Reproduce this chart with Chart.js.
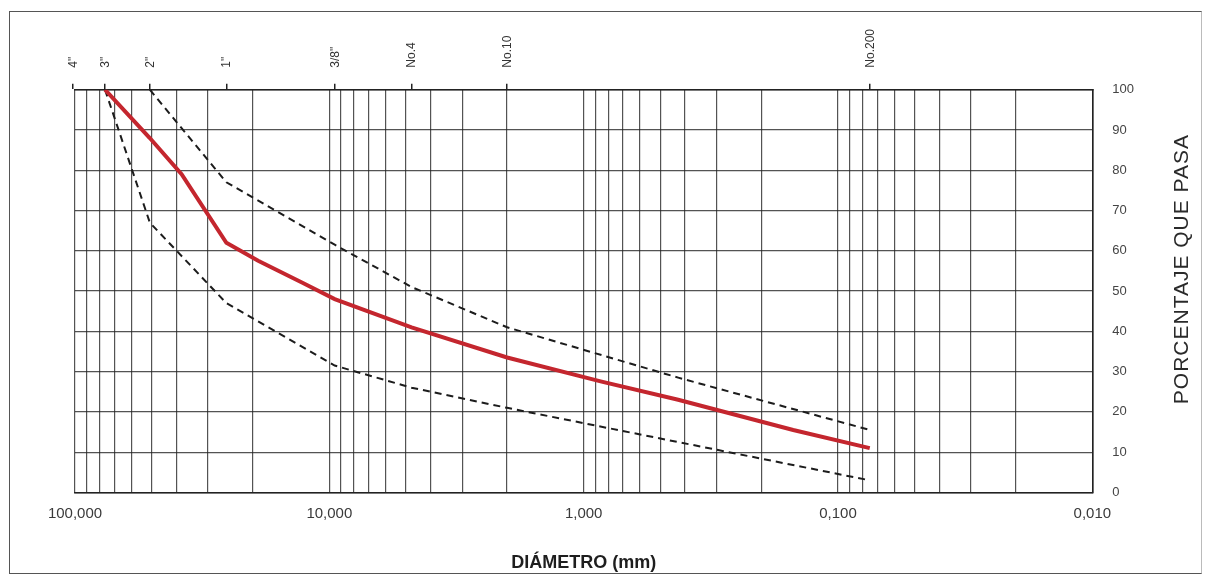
<!DOCTYPE html>
<html>
<head>
<meta charset="utf-8">
<script src="https://cdn.jsdelivr.net/npm/chart.js@4"></script>
<style>
  body { margin: 0; background: #fff; }
  #wrap { position: relative; width: 1207px; height: 579px; }
  #frame { position: absolute; left: 9px; top: 11px; width: 1191px; height: 561px;
           border: 1px solid #555; border-right-color: #bbb; pointer-events: none; }
</style>
</head>
<body>
<div id="wrap">
  <canvas id="granulometria" width="1207" height="579"></canvas>
  <div id="frame"></div>
</div>
<script>
// abertura de tamices (mm) y porcentaje que pasa
const tamicesMuestra = [76.2, 50.8, 38.1, 25.4, 19.05, 12.7, 9.525, 4.75, 2.0, 0.85, 0.425, 0.15, 0.075]
const pasaMuestra = [100, 88, 79, 62, 57.5, 52, 48, 41, 33.5, 27.5, 23, 15.5, 11]

const tamicesSuperior = [50.8, 25.4, 9.525, 4.75, 2.0, 0.425, 0.075]
const pasaSuperior = [100, 77, 61.5, 51, 41, 28.5, 15.5]

const tamicesInferior = [76.2, 50.8, 25.4, 9.525, 4.75, 2.0, 0.425, 0.075]
const pasaInferior = [100, 67, 47, 31.5, 26, 21, 12.5, 3]

// rotulos superiores
const tamicesRotulo = [101.6, 76.2, 50.8, 25.4, 9.525, 4.75, 2.0, 0.075]
const nombresRotulo = ['4"', '3"', '2"', '1"', '3/8"', 'No.4', 'No.10', 'No.200']

// rotulos inferiores
const decadas = [100, 10, 1, 0.1, 0.01]
const nombresDecada = ['100,000', '10,000', '1,000', '0,100', '0,010']

const yTicks = [0, 10, 20, 30, 40, 50, 60, 70, 80, 90, 100]

const fuente = '"Liberation Sans", Arial, sans-serif'
const colorGrid = 'rgba(35,35,35,0.78)'

// lineas del papel semilogaritmico
let lineasX = []
for (let e = -2; e < 2; e++) {
    for (let k = 1; k < 10; k++) lineasX.push(k * Math.pow(10, e))
}
lineasX.push(100)

function puntos(tamices, valores) {
    return tamices.map((t, i) => ({ x: t, y: valores[i] }))
}

const tituloVertical = {
    id: 'tituloVertical',
    afterDraw(chart) {
        const { ctx, chartArea } = chart
        ctx.save()
        ctx.translate(chartArea.right + 90, (chartArea.top + chartArea.bottom) / 2 - 22)
        ctx.rotate(-Math.PI / 2)
        ctx.font = '21px ' + fuente
        ctx.letterSpacing = '1px'
        ctx.fillStyle = '#2a2a2a'
        ctx.textAlign = 'center'
        ctx.textBaseline = 'middle'
        ctx.fillText('PORCENTAJE QUE PASA', 0, 0)
        ctx.restore()
    }
}

let canvas = document.getElementById('granulometria')
let config = {
    type: 'line',
    data: {
        datasets: [
            {
                data: puntos(tamicesMuestra, pasaMuestra),
                borderColor: '#c4262e',
                borderWidth: 4,
                pointRadius: 0,
                xAxisID: 'x',
                yAxisID: 'y'
            },
            {
                data: puntos(tamicesSuperior, pasaSuperior),
                borderColor: '#1c1c1c',
                borderWidth: 2,
                borderDash: [7, 5],
                pointRadius: 0,
                xAxisID: 'x',
                yAxisID: 'y'
            },
            {
                data: puntos(tamicesInferior, pasaInferior),
                borderColor: '#1c1c1c',
                borderWidth: 2,
                borderDash: [7, 5],
                pointRadius: 0,
                xAxisID: 'x',
                yAxisID: 'y'
            }
        ]
    },
    options: {
        responsive: false,
        animation: false,
        layout: {
            padding: { left: 75, right: 53, top: 13, bottom: 5 }
        },
        plugins: {
            legend: { display: false },
            tooltip: { enabled: false }
        },
        scales: {
            x: {
                type: 'logarithmic',
                position: 'bottom',
                reverse: true,
                min: 0.01,
                max: 100,
                afterBuildTicks: scale => {
                    scale.ticks = lineasX.map(v => ({ value: v }))
                },
                ticks: {
                    autoSkip: false,
                    maxRotation: 0,
                    padding: 12,
                    color: '#3a3a3a',
                    font: { family: fuente, size: 15 },
                    callback: value => {
                        let i = decadas.indexOf(value)
                        return i >= 0 ? nombresDecada[i] : ''
                    }
                },
                grid: {
                    color: colorGrid,
                    lineWidth: 1.2,
                    drawTicks: false
                },
                border: { color: '#222', width: 1.6 },
                title: {
                    display: true,
                    text: 'DIÁMETRO (mm)',
                    color: '#1e1e1e',
                    font: { family: fuente, size: 18, weight: 'bold' },
                    padding: { top: 18, bottom: 0 }
                }
            },
            xTop: {
                type: 'logarithmic',
                position: 'top',
                reverse: true,
                min: 0.01,
                max: 100,
                afterBuildTicks: scale => {
                    scale.ticks = tamicesRotulo.map(v => ({ value: v }))
                },
                ticks: {
                    autoSkip: false,
                    minRotation: 90,
                    maxRotation: 90,
                    padding: 16,
                    labelOffset: 15,
                    color: '#333',
                    font: { family: fuente, size: 12 },
                    callback: (value, index) => nombresRotulo[index]
                },
                grid: {
                    drawOnChartArea: false,
                    tickLength: 6,
                    tickColor: '#222',
                    lineWidth: 1.5
                },
                border: { color: '#222', width: 1.6 }
            },
            y: {
                position: 'right',
                min: 0,
                max: 100,
                afterBuildTicks: scale => {
                    scale.ticks = yTicks.map(v => ({ value: v }))
                },
                ticks: {
                    padding: 20,
                    color: '#444',
                    font: { family: fuente, size: 13 }
                },
                grid: {
                    color: colorGrid,
                    lineWidth: 1.2,
                    drawTicks: false
                },
                border: { color: '#222', width: 1.6 }
            }
        }
    },
    plugins: [tituloVertical]
}

let chart = new Chart(canvas, config)
</script>
</body>
</html>
